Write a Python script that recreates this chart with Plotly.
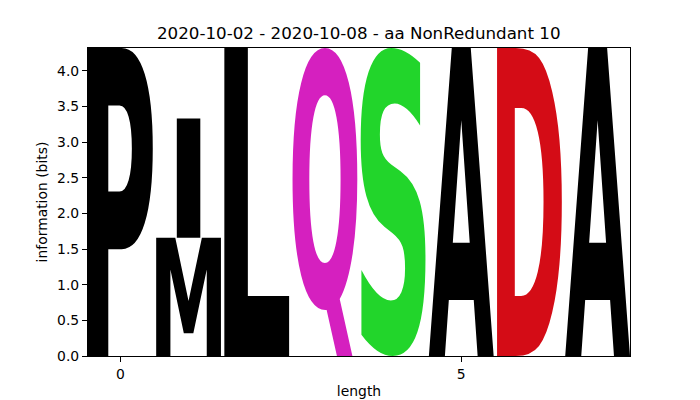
import glob
import os
import struct

import plotly.graph_objects as go

# ---------------- data ----------------
positions = [0, 1, 2, 3, 4, 5, 6, 7]
letters = ["P", "M", "I", "L", "Q", "S", "A", "D", "A"]
letter_pos = [0, 1, 1, 2, 3, 4, 5, 6, 7]
letter_bits = [4.32, 1.66, 1.67, 4.32, 4.32, 4.32, 4.32, 4.32, 4.32]
residue_colors = {
    "P": "#000000", "M": "#000000", "I": "#000000", "L": "#000000",
    "A": "#000000", "Q": "#D520BF", "S": "#22D52B", "D": "#D40C16",
}
x_tick_vals = [0, 5]
y_tick_vals = [0.0, 0.5, 1.0, 1.5, 2.0, 2.5, 3.0, 3.5, 4.0]
title_text = "2020-10-02 - 2020-10-08 - aa NonRedundant 10"
glyph_width = 0.95
dont_stretch_more_than = "E"


# ---------------- minimal TrueType reader for glyph outlines ----------------
def find_font():
    pats = ["DejaVuSans-Bold.ttf", "LiberationSans-Bold.ttf"]
    for pat in pats:
        for root in ["/usr/share/fonts", "/usr/local/share/fonts", os.path.expanduser("~/.fonts")]:
            hits = glob.glob(os.path.join(root, "**", pat), recursive=True)
            if hits:
                return hits[0]
    raise RuntimeError("font not found: " + str(glob.glob("/usr/share/fonts/**/*.ttf", recursive=True)[:40]))


class TTF:
    def __init__(self, path):
        self.d = open(path, "rb").read()
        d = self.d
        n = struct.unpack(">H", d[4:6])[0]
        self.t = {}
        for i in range(n):
            tag, _, off, ln = struct.unpack(">4sIII", d[12 + 16 * i:28 + 16 * i])
            self.t[tag.decode("latin1")] = (off, ln)
        h = self.t["head"][0]
        self.locfmt = struct.unpack(">h", d[h + 50:h + 52])[0]

    def gid(self, ch):
        d = self.d
        off = self.t["cmap"][0]
        n = struct.unpack(">H", d[off + 2:off + 4])[0]
        c = ord(ch)
        for i in range(n):
            pid, eid, so = struct.unpack(">HHI", d[off + 4 + 8 * i:off + 12 + 8 * i])
            sub = off + so
            fmt = struct.unpack(">H", d[sub:sub + 2])[0]
            if fmt == 4:
                segx2 = struct.unpack(">H", d[sub + 6:sub + 8])[0]
                seg = segx2 // 2
                e_off = sub + 14
                s_off = e_off + segx2 + 2
                dl_off = s_off + segx2
                ro_off = dl_off + segx2
                ends = struct.unpack(">%dH" % seg, d[e_off:e_off + segx2])
                starts = struct.unpack(">%dH" % seg, d[s_off:s_off + segx2])
                deltas = struct.unpack(">%dh" % seg, d[dl_off:dl_off + segx2])
                ros = struct.unpack(">%dH" % seg, d[ro_off:ro_off + segx2])
                for k in range(seg):
                    if starts[k] <= c <= ends[k]:
                        if ros[k] == 0:
                            return (c + deltas[k]) & 0xFFFF
                        addr = ro_off + 2 * k + ros[k] + 2 * (c - starts[k])
                        g = struct.unpack(">H", d[addr:addr + 2])[0]
                        return (g + deltas[k]) & 0xFFFF if g else 0
        return 0

    def contours(self, g, dx=0, dy=0):
        d = self.d
        lo = self.t["loca"][0]
        if self.locfmt == 0:
            a, b = struct.unpack(">HH", d[lo + 2 * g:lo + 2 * g + 4])
            a, b = a * 2, b * 2
        else:
            a, b = struct.unpack(">II", d[lo + 4 * g:lo + 4 * g + 8])
        if a == b:
            return []
        p = self.t["glyf"][0] + a
        nc = struct.unpack(">h", d[p:p + 2])[0]
        p += 10
        if nc < 0:
            out = []
            while True:
                fl, cg = struct.unpack(">HH", d[p:p + 4])
                p += 4
                if fl & 1:
                    a1, a2 = struct.unpack(">hh", d[p:p + 4]); p += 4
                else:
                    a1, a2 = struct.unpack(">bb", d[p:p + 2]); p += 2
                if fl & 8:
                    p += 2
                elif fl & 0x40:
                    p += 4
                elif fl & 0x80:
                    p += 8
                out += self.contours(cg, dx + a1, dy + a2)
                if not fl & 0x20:
                    break
            return out
        ends = struct.unpack(">%dH" % nc, d[p:p + 2 * nc])
        p += 2 * nc
        il = struct.unpack(">H", d[p:p + 2])[0]
        p += 2 + il
        npts = ends[-1] + 1
        flags = []
        while len(flags) < npts:
            f = d[p]; p += 1
            flags.append(f)
            if f & 8:
                r = d[p]; p += 1
                flags.extend([f] * r)
        xs, x = [], 0
        for f in flags:
            if f & 2:
                v = d[p]; p += 1
                x += v if f & 16 else -v
            elif not f & 16:
                x += struct.unpack(">h", d[p:p + 2])[0]; p += 2
            xs.append(x)
        ys, y = [], 0
        for f in flags:
            if f & 4:
                v = d[p]; p += 1
                y += v if f & 32 else -v
            elif not f & 32:
                y += struct.unpack(">h", d[p:p + 2])[0]; p += 2
            ys.append(y)
        out, s = [], 0
        for e in ends:
            out.append([(xs[i] + dx, ys[i] + dy, bool(flags[i] & 1)) for i in range(s, e + 1)])
            s = e + 1
        return out


def contour_segments(pts):
    if not any(p[2] for p in pts):
        m = ((pts[0][0] + pts[1][0]) / 2, (pts[0][1] + pts[1][1]) / 2, True)
        pts = [m] + pts[1:] + [pts[0]]
    k = next(i for i, p in enumerate(pts) if p[2])
    pts = pts[k:] + pts[:k]
    n = len(pts)
    start = pts[0]
    segs = []
    i = 1
    while i <= n:
        p = pts[i % n]
        if p[2]:
            segs.append(("L", p))
            i += 1
        else:
            nx = pts[(i + 1) % n]
            if nx[2]:
                segs.append(("Q", p, nx))
                i += 2
            else:
                mid = ((p[0] + nx[0]) / 2, (p[1] + nx[1]) / 2, True)
                segs.append(("Q", p, mid))
                i += 1
    return start, segs


font = TTF(find_font())


def bbox(cs):
    allx = [p[0] for c in cs for p in c]
    ally = [p[1] for c in cs for p in c]
    return min(allx), max(allx), min(ally), max(ally)


_ref = bbox(font.contours(font.gid(dont_stretch_more_than)))
ref_width = _ref[1] - _ref[0]


def glyph_path(ch, xc, y0, h):
    cs = font.contours(font.gid(ch))
    xmin, xmax, ymin, ymax = bbox(cs)
    cw = xmax - xmin
    hstretch = min(glyph_width / cw, glyph_width / ref_width)
    w = hstretch * cw

    def tx(p):
        X = xc - w / 2 + (p[0] - xmin) * hstretch
        Y = y0 + (p[1] - ymin) / (ymax - ymin) * h
        return "%.5f,%.5f" % (X, Y)

    parts = []
    for c in cs:
        start, segs = contour_segments(c)
        parts.append("M" + tx(start))
        for sg in segs:
            if sg[0] == "L":
                parts.append("L" + tx(sg[1]))
            else:
                parts.append("Q" + tx(sg[1]) + " " + tx(sg[2]))
        parts.append("Z")
    return " ".join(parts)


# ---------------- build figure ----------------
fig = go.Figure()
fig.add_trace(go.Scatter(x=letter_pos, y=letter_bits, mode="markers",
                         marker=dict(opacity=0), hoverinfo="skip", showlegend=False))

# stack letters per position, smallest at bottom (big on top)
for pos in positions:
    idx = [i for i, p in enumerate(letter_pos) if p == pos]
    idx.sort(key=lambda i: letter_bits[i])
    floor = 0.0
    for i in idx:
        fig.add_shape(type="path", xref="x", yref="y",
                      path=glyph_path(letters[i], pos, floor, letter_bits[i]),
                      fillcolor=residue_colors[letters[i]], line=dict(width=0),
                      fillrule="evenodd", layer="below")
        floor += letter_bits[i]

ymax = max(sum(letter_bits[i] for i, p in enumerate(letter_pos) if p == pos) for pos in positions)

font_family = "DejaVu Sans"
fig.update_layout(
    width=700, height=400,
    margin=dict(l=88, r=70, t=48, b=44),
    paper_bgcolor="white", plot_bgcolor="white",
    font=dict(family=font_family, color="black", size=13.9),
    title=dict(text=title_text, x=0.5125, xanchor="center", y=1 - 33 / 400, yanchor="middle",
               yref="container", font=dict(size=16.7, color="black", family=font_family)),
    showlegend=False,
)
fig.update_xaxes(range=[-glyph_width / 2, positions[-1] + glyph_width / 2],
                 tickvals=x_tick_vals, ticktext=[str(v) for v in x_tick_vals],
                 showgrid=False, zeroline=False, showline=True, mirror=True,
                 linecolor="black", linewidth=1.1, ticks="outside", ticklen=5,
                 tickwidth=1.1, tickcolor="black",
                 title=dict(text="length", standoff=5, font=dict(size=13.9)),
                 automargin=False)
fig.update_yaxes(range=[0, ymax], tickvals=y_tick_vals,
                 ticktext=["%.1f" % v for v in y_tick_vals],
                 showgrid=False, zeroline=False, showline=True, mirror=True,
                 linecolor="black", linewidth=1.1, ticks="outside", ticklen=5,
                 tickwidth=1.1, tickcolor="black",
                 title=dict(text="information (bits)", standoff=6, font=dict(size=13.9)),
                 automargin=False)

fig.write_html("out.html")
